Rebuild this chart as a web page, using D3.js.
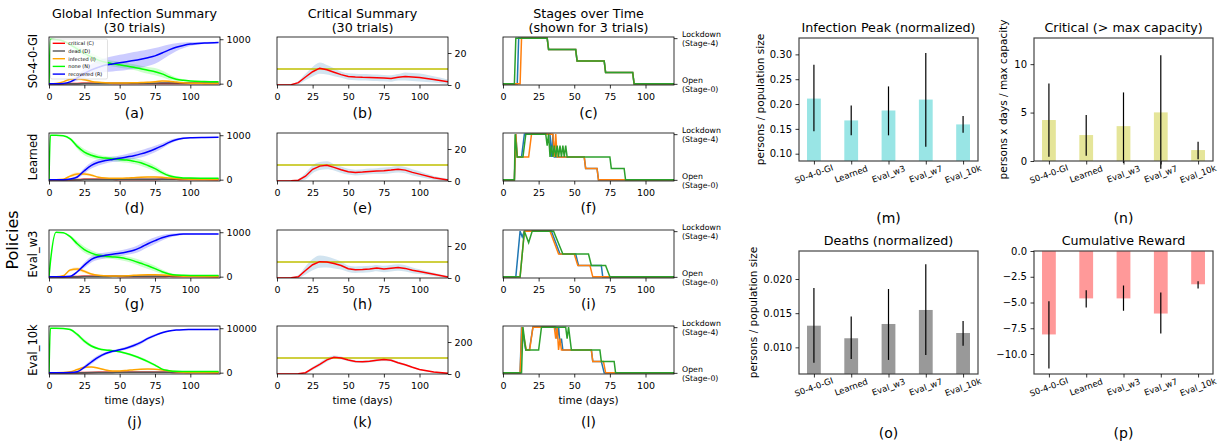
<!DOCTYPE html>
<html>
<head>
<meta charset="utf-8">
<script src="https://cdn.jsdelivr.net/npm/d3@7"></script>
<style>
  body { margin: 0; background: #fff; }
  svg { font-family: "DejaVu Sans", sans-serif; }
</style>
</head>
<body>
<div class="chart"></div>
<script>
// ---------- data ----------
var days = [0, 1, 5, 10, 15, 20, 25, 30, 35, 40, 45, 50, 55, 60, 65, 70, 75, 80, 85, 90, 95, 100, 110, 120];
var policies = ["S0-4-0-GI", "Learned", "Eval_w3", "Eval_10k"];
var populations = [1000, 1000, 1000, 10000];

// global infection summary (mean of 30 trials), one row per policy
var noneMean = [
  [0, 1000, 990, 960, 880, 780, 680, 600, 530, 480, 450, 425, 400, 370, 335, 300, 270, 220, 150, 100, 75, 60, 48, 42],
  [0, 1000, 1000, 990, 920, 750, 620, 550, 505, 485, 470, 455, 440, 415, 380, 320, 250, 160, 90, 55, 40, 35, 32, 30],
  [0, 330, 1000, 990, 900, 740, 610, 530, 480, 460, 445, 430, 400, 355, 300, 245, 180, 110, 60, 35, 30, 28, 27, 27],
  [0, 10000, 10000, 9950, 9700, 8600, 7100, 6000, 5400, 5100, 4950, 4700, 4300, 3800, 3200, 2500, 1700, 800, 450, 300, 270, 260, 250, 250]
];
var recMean = [
  [0, 0, 0, 5, 40, 130, 230, 310, 370, 420, 445, 470, 495, 520, 550, 585, 625, 690, 760, 820, 860, 890, 915, 928],
  [0, 0, 0, 0, 15, 60, 200, 320, 390, 430, 455, 480, 510, 540, 580, 630, 690, 760, 840, 900, 930, 945, 950, 952],
  [0, 0, 0, 0, 10, 110, 260, 390, 450, 480, 505, 525, 555, 595, 660, 740, 810, 875, 920, 945, 958, 962, 962, 962],
  [0, 0, 0, 0, 20, 200, 1200, 2400, 3500, 4300, 4800, 5150, 5550, 6100, 6800, 7700, 8400, 9000, 9400, 9600, 9680, 9700, 9720, 9720]
];
var infMean = [
  [0, 0, 5, 40, 100, 110, 90, 50, 30, 20, 15, 15, 15, 20, 25, 30, 45, 60, 55, 35, 20, 12, 6, 3],
  [0, 0, 0, 10, 80, 125, 130, 100, 55, 35, 30, 30, 35, 45, 55, 60, 60, 55, 40, 25, 15, 10, 5, 3],
  [0, 0, 0, 20, 150, 170, 120, 60, 30, 20, 15, 15, 20, 30, 40, 45, 45, 40, 30, 20, 12, 8, 4, 2],
  [0, 0, 0, 20, 200, 700, 1200, 1300, 1000, 600, 400, 400, 500, 650, 750, 800, 750, 600, 400, 200, 100, 50, 20, 10]
];
var deadMean = [
  [0, 0, 0, 0, 0, 0, 1, 2, 4, 5, 7, 8, 9, 10, 11, 12, 12, 13, 13, 14, 15, 15, 16, 17],
  [0, 0, 0, 0, 0, 0, 1, 2, 3, 5, 6, 7, 8, 9, 10, 11, 11, 12, 12, 13, 13, 13, 13, 13],
  [0, 0, 0, 0, 0, 0, 1, 3, 4, 6, 7, 8, 9, 10, 11, 11, 12, 12, 13, 13, 13, 13, 13, 13],
  [0, 0, 0, 0, 0, 0, 5, 15, 30, 50, 65, 75, 85, 95, 100, 105, 110, 115, 118, 120, 120, 120, 120, 120]
];
var noneSd = [
  [0, 0, 5, 15, 40, 70, 90, 90, 80, 70, 65, 65, 65, 65, 70, 75, 80, 75, 60, 40, 25, 15, 8, 5],
  [0, 0, 0, 5, 30, 60, 70, 65, 55, 50, 50, 55, 60, 65, 70, 70, 65, 50, 35, 20, 10, 8, 5, 4],
  [0, 0, 0, 5, 30, 60, 70, 65, 55, 50, 50, 55, 60, 65, 70, 70, 65, 50, 35, 20, 10, 8, 5, 4],
  [0, 0, 0, 50, 200, 400, 450, 350, 250, 200, 200, 220, 250, 280, 300, 300, 250, 180, 100, 50, 30, 20, 10, 10]
];
var recSd = [
  [0, 0, 0, 5, 20, 60, 100, 130, 150, 160, 170, 180, 185, 190, 190, 185, 175, 150, 120, 90, 65, 45, 25, 15],
  [0, 0, 0, 0, 10, 30, 60, 70, 70, 65, 60, 65, 70, 75, 80, 80, 75, 60, 45, 30, 20, 12, 8, 5],
  [0, 0, 0, 0, 10, 30, 60, 70, 70, 65, 60, 65, 70, 75, 80, 80, 75, 60, 45, 30, 20, 12, 8, 5],
  [0, 0, 0, 0, 20, 150, 400, 500, 450, 350, 300, 300, 350, 400, 400, 350, 300, 200, 120, 70, 40, 20, 10, 10]
];
var infSd = [
  [0, 0, 3, 15, 30, 35, 30, 20, 12, 10, 10, 10, 10, 12, 15, 18, 20, 20, 18, 15, 10, 6, 3, 2],
  [0, 0, 0, 8, 30, 40, 35, 25, 15, 10, 8, 8, 10, 12, 14, 15, 15, 12, 10, 8, 5, 4, 2, 1],
  [0, 0, 0, 8, 30, 40, 35, 25, 15, 10, 8, 8, 10, 12, 14, 15, 15, 12, 10, 8, 5, 4, 2, 1],
  [0, 0, 0, 10, 80, 200, 250, 200, 150, 100, 70, 70, 80, 100, 110, 110, 100, 80, 60, 40, 20, 10, 5, 2]
];

// critical summary
var critMean = [
  [0, 0, 0, 0.2, 1.5, 5, 8.3, 10.5, 9.5, 8, 6.5, 5.3, 5, 4.8, 4.7, 4.5, 4.3, 4.1, 4.8, 5.3, 5, 4.7, 3.5, 2],
  [0, 0, 0, 0.1, 0.5, 3, 7.3, 9.3, 9.8, 8.5, 7, 5.8, 5.3, 5.6, 6, 6.2, 6.4, 6.8, 7.3, 6.8, 5.4, 4.3, 2, 0.6],
  [0, 0, 0, 0.1, 0.8, 4.7, 8.3, 10.2, 10, 9, 7.8, 5.8, 5.2, 5.3, 5.6, 6.2, 5.6, 6.1, 6.6, 6, 4.8, 4, 2.3, 0.6],
  [0, 0, 0, 0, 1, 8, 35, 60, 88, 105, 100, 88, 78, 76, 80, 86, 90, 86, 70, 58, 42, 28, 12, 4]
];
var critSd = [
  [0, 0, 0, 0.3, 1, 2, 3, 3.5, 3, 2.5, 2, 2, 2, 2, 2, 2, 2, 2, 2, 2.5, 2.5, 2.5, 2, 1.5],
  [0, 0, 0, 0.2, 0.8, 2, 2.5, 2.5, 2.5, 2, 2, 1.8, 1.8, 1.8, 1.8, 1.8, 2, 2, 2, 2, 2, 1.8, 1.2, 0.8],
  [0, 0, 0, 0.2, 1, 2.5, 3.5, 3.8, 3.5, 3, 2.5, 2, 2, 2, 2, 2, 2, 2, 2, 2, 1.8, 1.5, 1, 0.6],
  [0, 0, 0, 0, 2, 6, 10, 12, 12, 10, 9, 8, 8, 8, 8, 8, 8, 8, 7, 6, 5, 4, 3, 2]
];
var critCapacity = [10, 10, 10, 100];
var critTop = [30, 30, 30, 300];
var critTicks = [[0, 20], [0, 20], [0, 20], [0, 200]];

// stages over time, 3 trials per policy: [day, stage]
var stagesBlue = [
  [[0,0],[10,0],[11,4],[31,4],[32,3],[51,3],[52,2],[71,2],[72,1],[91,1],[92,0],[120,0]],
  [[0,0],[8,0],[9,4],[10,2],[13,2],[15,4],[33,4],[34,2],[35,4],[36,2],[57,2],[58,1],[66,1],[67,0],[120,0]],
  [[0,0],[9,0],[12,4],[13.5,3.5],[15,4],[34,4],[40,2],[51,2],[53,1],[69,1],[70,0],[120,0]],
  [[0,0],[12,0],[13,4],[16,2],[18.5,2],[21,4],[37,4],[38,3],[39,4],[40,2.5],[41,3],[42,2],[62,2],[63,1],[69,1],[71,0],[120,0]]
];
var stagesOrange = [
  [[0,0],[12,0],[13,4],[31,4],[32,3],[51,3],[52,2],[71,2],[72,1],[91,1],[92,0],[120,0]],
  [[0,0],[8,0],[9,4],[10,2],[18,2],[20,4],[35,4],[36,2],[37,4],[38,2],[57,2],[58,1],[66,1],[67,0],[120,0]],
  [[0,0],[12,0],[15,4],[33,4],[39,2],[50,2],[52.5,1],[61,1],[63,0],[120,0]],
  [[0,0],[12,0],[13.3,4],[16.4,2],[18.7,2],[21,4],[36,4],[37,3],[38,4],[39,2],[40,3],[41,2],[62,2],[63,1],[70.5,1],[72,0],[120,0]]
];
var stagesGreen = [
  [[0,0],[8,0],[9,4],[31,4],[32,3],[51,3],[52,2],[71,2],[72,1],[91,1],[92,0],[120,0]],
  [[0,0],[8,0],[8.5,4],[10,2],[14,2],[16,4],[30,4],[31,3],[32,4],[33,2],[34,3],[35,2],[36,3],[37,2],[38,3],[39,2],[40,3],[41,2],[42,3],[43,2],[44,3],[45,2],[75,2],[76,1],[85,1],[86,0],[120,0]],
  [[0,0],[12,0],[15,4],[18,3],[20.5,4],[35.5,4],[42,2],[60,2],[62,1],[72,1],[75,0],[120,0]],
  [[0,0],[13,0],[14,4],[16,2],[25,2],[27,4],[44,4],[45,3],[46,4],[48,2],[68,2],[69,1],[78,1],[79,0],[120,0]]
];

// bar charts
var barCats = ["S0-4-0-GI", "Learned", "Eval_w3", "Eval_w7", "Eval_10k"];
var peakMean = [0.211, 0.167, 0.187, 0.209, 0.159];
var peakLo = [0.145, 0.137, 0.137, 0.114, 0.142];
var peakHi = [0.279, 0.197, 0.2355, 0.303, 0.176];
var critBarMean = [4.23, 2.68, 3.6, 5.02, 1.13];
var critBarLo = [0.45, 0.55, -0.2, -0.8, 0.17];
var critBarHi = [8.0, 4.74, 7.08, 10.93, 1.99];
var deathMean = [0.01317, 0.01133, 0.01342, 0.01547, 0.0121];
var deathLo = [0.00776, 0.0083, 0.00816, 0.00889, 0.01025];
var deathHi = [0.0187, 0.0145, 0.01854, 0.02215, 0.01386];
var rewardMean = [-8.1, -4.6, -4.6, -6.07, -3.23];
var rewardLo = [-11.4, -5.48, -5.8, -8.0, -3.64];
var rewardHi = [-4.88, -3.8, -3.35, -4.03, -2.93];

// ---------- layout ----------
var svg = d3.select(".chart").append("svg").attr("width", 1225).attr("height", 445);

var rowTop = [37, 133, 230, 326];
var rowH = 48;
var colLeft = [49, 277, 503];
var colW = 171;
var letterY = [113, 208, 304, 422];
var letters = [["(a)", "(b)", "(c)"], ["(d)", "(e)", "(f)"], ["(g)", "(h)", "(i)"], ["(j)", "(k)", "(l)"]];

function styleAxis(sel, fs) {
  sel.attr("font-family", "DejaVu Sans").attr("font-size", fs);
  sel.select(".domain").remove();
  sel.selectAll(".tick line").attr("stroke", "#000").attr("stroke-width", 0.8);
  sel.selectAll(".tick text").attr("fill", "#000");
}

function frame(g, w, h, color, sw) {
  g.append("rect").attr("width", w).attr("height", h)
    .attr("fill", "none").attr("stroke", color).attr("stroke-width", sw);
}

function addText(x, y, txt, size, opts) {
  opts = opts || {};
  var t = svg.append("text")
    .attr("x", x).attr("y", y)
    .attr("text-anchor", opts.anchor || "middle")
    .attr("dominant-baseline", "central")
    .style("font-size", size + "px")
    .attr("fill", "#000")
    .text(txt);
  if (opts.rotate) t.attr("transform", `rotate(${opts.rotate},${x},${y})`);
  return t;
}

// column titles
addText(134.5, 13, "Global Infection Summary", 12.7);
addText(134.5, 27, "(30 trials)", 12.7);
addText(362.5, 13, "Critical Summary", 12.7);
addText(362.5, 27, "(30 trials)", 12.7);
addText(588.5, 13, "Stages over Time", 12.7);
addText(588.5, 27, "(shown for 3 trials)", 12.7);

addText(12, 240, "Policies", 16, { rotate: -90 });

var x = d3.scaleLinear().domain([0, 121]).range([0, colW]);
var xs = d3.scaleLinear().domain([0, 120]).range([0, colW]);

policies.forEach(function (name, r) {
  var top = rowTop[r];

  // ---------- global infection summary ----------
  var maxV = populations[r];
  var g = svg.append("g").attr("transform", `translate(${colLeft[0]},${top})`);
  var y = d3.scaleLinear().domain([-0.03 * maxV, 1.05 * maxV]).range([rowH, 0]);
  g.append("clipPath").attr("id", "clipG" + r)
    .append("rect").attr("width", colW).attr("height", rowH);
  var plot = g.append("g").attr("clip-path", `url(#clipG${r})`);

  function band(mean, sd) {
    return d3.area()
      .x((d, i) => x(days[i]))
      .y0((d, i) => y(mean[i] - sd[i]))
      .y1((d, i) => y(mean[i] + sd[i]))
      .curve(d3.curveMonotoneX);
  }
  function line(vals) {
    return d3.line().x((d, i) => x(days[i])).y(d => y(d)).curve(d3.curveMonotoneX)(vals);
  }
  plot.append("path").attr("d", band(infMean[r], infSd[r])(days)).attr("fill", "orange").attr("opacity", 0.2);
  plot.append("path").attr("d", band(noneMean[r], noneSd[r])(days)).attr("fill", "lime").attr("opacity", 0.2);
  plot.append("path").attr("d", band(recMean[r], recSd[r])(days)).attr("fill", "blue").attr("opacity", 0.2);

  var series = [
    { vals: critMean[r], color: "red" },
    { vals: deadMean[r], color: "#555" },
    { vals: infMean[r], color: "orange" },
    { vals: noneMean[r], color: "lime" },
    { vals: recMean[r], color: "blue" }
  ];
  series.forEach(function (s) {
    plot.append("path").attr("d", line(s.vals))
      .attr("fill", "none").attr("stroke", s.color).attr("stroke-width", 1.5);
  });
  frame(g, colW, rowH, "#000", 0.8);

  g.append("g").attr("transform", `translate(0,${rowH})`)
    .call(d3.axisBottom(x).tickValues([0, 25, 50, 75, 100]).tickSize(3.5).tickPadding(4.5))
    .call(styleAxis, 9.5);
  g.append("g").attr("transform", `translate(${colW},0)`)
    .call(d3.axisRight(y).tickValues([0, maxV]).tickFormat(d3.format("d")).tickSize(3.5).tickPadding(3))
    .call(styleAxis, 9.5);

  addText(33, top + rowH / 2, name, 11.5, { rotate: -90 });

  if (r === 0) {
    var legendItems = [["critical (C)", "red"], ["dead (D)", "#555"], ["infected (I)", "orange"], ["none (N)", "lime"], ["recovered (R)", "blue"]];
    var lg = g.append("g").attr("transform", "translate(1.5,2)");
    lg.append("rect").attr("width", 57).attr("height", 40).attr("rx", 1.5)
      .attr("fill", "#fff").attr("fill-opacity", 0.8).attr("stroke", "#ccc").attr("stroke-width", 0.6);
    legendItems.forEach(function (it, i) {
      var ly = 4.3 + i * 7.7;
      lg.append("line").attr("x1", 2.2).attr("x2", 14.5).attr("y1", ly).attr("y2", ly)
        .attr("stroke", it[1]).attr("stroke-width", 1.4);
      lg.append("text").attr("x", 17.8).attr("y", ly).attr("dominant-baseline", "central")
        .style("font-size", "5px").text(it[0]);
    });
  }

  // ---------- critical summary ----------
  var gc = svg.append("g").attr("transform", `translate(${colLeft[1]},${top})`);
  var yc = d3.scaleLinear().domain([0, critTop[r]]).range([rowH, 0]);
  gc.append("clipPath").attr("id", "clipC" + r)
    .append("rect").attr("width", colW).attr("height", rowH);
  var pc = gc.append("g").attr("clip-path", `url(#clipC${r})`);
  pc.append("path")
    .attr("d", d3.area()
      .x((d, i) => xs(days[i]))
      .y0((d, i) => yc(Math.max(0, critMean[r][i] - critSd[r][i])))
      .y1((d, i) => yc(critMean[r][i] + critSd[r][i]))
      .curve(d3.curveMonotoneX)(days))
    .attr("fill", "#1f77b4").attr("opacity", 0.2);
  pc.append("line").attr("x1", 0).attr("x2", colW)
    .attr("y1", yc(critCapacity[r])).attr("y2", yc(critCapacity[r]))
    .attr("stroke", "#bfbf00").attr("stroke-width", 1.5);
  pc.append("path")
    .attr("d", d3.line().x((d, i) => xs(days[i])).y(d => yc(d))(critMean[r]))
    .attr("fill", "none").attr("stroke", "red").attr("stroke-width", 1.5);
  frame(gc, colW, rowH, "#000", 0.8);
  gc.append("g").attr("transform", `translate(0,${rowH})`)
    .call(d3.axisBottom(xs).tickValues([0, 25, 50, 75, 100]).tickSize(3.5).tickPadding(4.5))
    .call(styleAxis, 9.5);
  gc.append("g").attr("transform", `translate(${colW},0)`)
    .call(d3.axisRight(yc).tickValues(critTicks[r]).tickFormat(d3.format("d")).tickSize(3.5).tickPadding(3))
    .call(styleAxis, 9.5);

  // ---------- stages over time ----------
  var gs = svg.append("g").attr("transform", `translate(${colLeft[2]},${top})`);
  var ys = d3.scaleLinear().domain([-0.1, 4.1]).range([rowH, 0]);
  var stageLine = d3.line().x(d => xs(d[0])).y(d => ys(d[1]));
  [[stagesBlue, "#1f77b4"], [stagesOrange, "#ff7f0e"], [stagesGreen, "#2ca02c"]].forEach(function (tr) {
    gs.append("path").attr("d", stageLine(tr[0][r]))
      .attr("fill", "none").attr("stroke", tr[1]).attr("stroke-width", 1.5);
  });
  frame(gs, colW, rowH, "#000", 0.8);
  gs.append("g").attr("transform", `translate(0,${rowH})`)
    .call(d3.axisBottom(xs).tickValues([0, 25, 50, 75, 100]).tickSize(3.5).tickPadding(4.5))
    .call(styleAxis, 9.5);
  var ra = gs.append("g").attr("transform", `translate(${colW},0)`)
    .call(d3.axisRight(ys).tickValues([0, 4]).tickFormat("").tickSize(3.5));
  styleAxis(ra, 8);
  [[4, "Lockdown", "(Stage-4)"], [0, "Open", "(Stage-0)"]].forEach(function (lab) {
    var t = gs.append("text").attr("x", colW + 8).attr("y", ys(lab[0]))
      .style("font-size", "7.8px").attr("fill", "#000");
    t.append("tspan").attr("x", colW + 8).attr("dy", "-0.15em").text(lab[1]);
    t.append("tspan").attr("x", colW + 8).attr("dy", "1.15em").text(lab[2]);
  });

  // panel letters
  [0, 1, 2].forEach(function (c) {
    addText(colLeft[c] + colW / 2, letterY[r], letters[r][c], 14);
  });
  if (r === 3) {
    [0, 1, 2].forEach(function (c) {
      addText(colLeft[c] + colW / 2, 400, "time (days)", 10.5);
    });
  }
});

// ---------- bar charts ----------
function barPanel(opt) {
  var w = 179, h = 123;
  var g = svg.append("g").attr("transform", `translate(${opt.x},${opt.y})`);
  var xb = d3.scaleLinear().domain([-0.4, 4.4]).range([0, w]);
  var yb = d3.scaleLinear().domain(opt.domain).range([h, 0]);
  var id = "clipB" + opt.letter.replace(/[()]/g, "");
  g.append("clipPath").attr("id", id).append("rect").attr("width", w).attr("height", h);
  var bw = xb(0.37) - xb(0);
  g.append("g").attr("clip-path", `url(#${id})`)
    .selectAll("rect").data(opt.mean).enter().append("rect")
    .attr("x", (d, i) => xb(i) - bw / 2)
    .attr("width", bw)
    .attr("y", d => Math.min(yb(d), yb(0)))
    .attr("height", d => Math.abs(yb(0) - yb(d)))
    .attr("fill", opt.color);
  g.selectAll("line.err").data(opt.mean).enter().append("line")
    .attr("class", "err")
    .attr("x1", (d, i) => xb(i)).attr("x2", (d, i) => xb(i))
    .attr("y1", (d, i) => yb(opt.lo[i])).attr("y2", (d, i) => yb(opt.hi[i]))
    .attr("stroke", "#000").attr("stroke-width", 1.2);
  frame(g, w, h, "#444", 1.2);
  var ya = g.append("g").call(d3.axisLeft(yb).tickValues(opt.ticks).tickFormat(d3.format(opt.fmt)).tickSize(3.5).tickPadding(3.5));
  styleAxis(ya, 10);
  var xa = g.append("g").attr("transform", `translate(0,${h})`)
    .call(d3.axisBottom(xb).tickValues([0, 1, 2, 3, 4]).tickFormat("").tickSize(3.5));
  styleAxis(xa, 8.5);
  barCats.forEach(function (c, i) {
    g.append("text").attr("x", xb(i)).attr("y", h + 13)
      .attr("text-anchor", "middle").attr("dominant-baseline", "central")
      .attr("transform", `rotate(-20,${xb(i)},${h + 13})`)
      .style("font-size", "8.5px").text(c);
  });
  addText(opt.x + w / 2, opt.y - 11, opt.title, 12.7);
  if (opt.ylabel) addText(opt.ylx, opt.y + h / 2, opt.ylabel, 10.5, { rotate: -90 });
  addText(opt.x + w / 2, opt.letterY, opt.letter, 14);
}

barPanel({ x: 799, y: 38, domain: [0.0853, 0.333], ticks: [0.10, 0.15, 0.20, 0.25, 0.30], fmt: ".2f",
  mean: peakMean, lo: peakLo, hi: peakHi, color: "#99e5e5",
  title: "Infection Peak (normalized)", ylabel: "persons / population size", ylx: 760, letter: "(m)", letterY: 218 });
barPanel({ x: 1034, y: 38, domain: [0, 12.7], ticks: [0, 5, 10], fmt: "d",
  mean: critBarMean, lo: critBarLo, hi: critBarHi, color: "#e5e599",
  title: "Critical (> max capacity)", ylabel: "persons x days / max capacity", ylx: 1003, letter: "(n)", letterY: 218 });
barPanel({ x: 799, y: 251, domain: [0.0061, 0.0241], ticks: [0.010, 0.015, 0.020], fmt: ".3f",
  mean: deathMean, lo: deathLo, hi: deathHi, color: "#999999",
  title: "Deaths (normalized)", ylabel: "persons / population size", ylx: 753, letter: "(o)", letterY: 433 });
barPanel({ x: 1034, y: 251, domain: [-11.94, 0], ticks: [0, -2.5, -5, -7.5, -10], fmt: ".1f",
  mean: rewardMean, lo: rewardLo, hi: rewardHi, color: "#ff9999",
  title: "Cumulative Reward", ylabel: null, letter: "(p)", letterY: 433 });
</script>
</body>
</html>
